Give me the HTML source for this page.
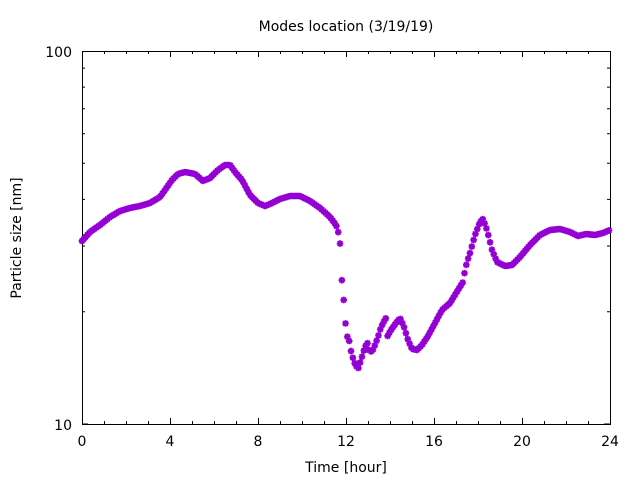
<!DOCTYPE html>
<html><head><meta charset="utf-8"><style>
html,body{margin:0;padding:0;background:#fff}
svg text{font-family:"DejaVu Sans","Liberation Sans",sans-serif;font-size:14px;fill:#000}
</style></head><body>
<svg id="s" width="640" height="480" xmlns="http://www.w3.org/2000/svg">
<rect width="640" height="480" fill="#fff"/>
<g id="ax" stroke="#000" stroke-width="1" fill="none"></g>
<rect x="82.5" y="51.5" width="528" height="373" fill="none" stroke="#000" stroke-width="1"/>
<text x="346" y="31" text-anchor="middle">Modes location (3/19/19)</text>
<text x="72" y="57" text-anchor="end">100</text>
<text x="72" y="430" text-anchor="end">10</text>
<text x="82" y="446" text-anchor="middle">0</text>
<text x="170" y="446" text-anchor="middle">4</text>
<text x="258" y="446" text-anchor="middle">8</text>
<text x="346" y="446" text-anchor="middle">12</text>
<text x="434" y="446" text-anchor="middle">16</text>
<text x="522" y="446" text-anchor="middle">20</text>
<text x="610" y="446" text-anchor="middle">24</text>
<text x="346" y="472" text-anchor="middle">Time [hour]</text>
<text transform="translate(21,238) rotate(-90)" text-anchor="middle">Particle size [nm]</text>
<path id="pts" stroke="#9400d3" stroke-width="1.9" fill="none"/>
</svg>
<script>
var ax=document.getElementById('ax'),d='';
for(var h=0;h<=24;h++){var x=82.5+22*h,L=(h%4==0)?6:3;d+='M'+x+' 424V'+(424-L)+'M'+x+' 51V'+(51+L);}
for(var k=2;k<=9;k++){var y=(424-373*Math.log10(k)).toFixed(1);d+='M82 '+y+'H85M610 '+y+'H607';}
d+='M82 51.5H88M610 51.5H604M82 424H88M610 424H604';
var p=document.createElementNS('http://www.w3.org/2000/svg','path');p.setAttribute('d',d);ax.appendChild(p);
var P=[[82,241],[90,232],[100,225],[110,217],[120,211],[130,208],[140,206],[150,203],[160,197],[165,190],[172,180],[178,174],[185,172],[195,174],[203,181],[210,178],[218,170],[225,165],[230,165],[235,172],[242,180],[250,195],[258,203],[265,206],[270,204],[280,199],[290,196],[300,196],[310,201],[320,208],[330,217],[336,225],[338,231],[340,243],[342,283],[344,303],[345,319],[347,336],[349,340],[351,351],[354,362],[358,369],[361,360],[364,350],[366,345],[367,341],[369,350],[372,352],[375,345],[378,337],[380,330],[383,323],[386,318],[387,337],[391,330],[396,323],[400,318],[404,327],[408,340],[412,349],[417,350],[422,345],[428,336],[435,323],[442,310],[450,303],[458,290],[463,282],[465,270],[467,262],[470,253],[475,235],[480,222],[483,219],[487,230],[492,250],[497,262],[505,266],[512,265],[520,257],[530,245],[540,235],[550,230],[560,229],[570,232],[578,236],[586,234],[595,235],[603,233],[610,230]];
var s='',j=0;
for(var x=82;x<=610.01;x+=1.83){while(j<P.length-2&&P[j+1][0]<x)j++;var a=P[j],b=P[j+1],t=(x-a[0])/(b[0]-a[0]);t=Math.max(0,Math.min(1,t));var y=a[1]+(b[1]-a[1])*t;
var r=3.3,q=2.4;s+='M'+(x-r)+' '+y+'h'+2*r+'M'+x+' '+(y-r)+'v'+2*r+'M'+(x-q)+' '+(y-q)+'l'+2*q+' '+2*q+'M'+(x-q)+' '+(y+q)+'l'+2*q+' '+(-2*q);}
document.getElementById('pts').setAttribute('d',s);
</script>
</body></html>
